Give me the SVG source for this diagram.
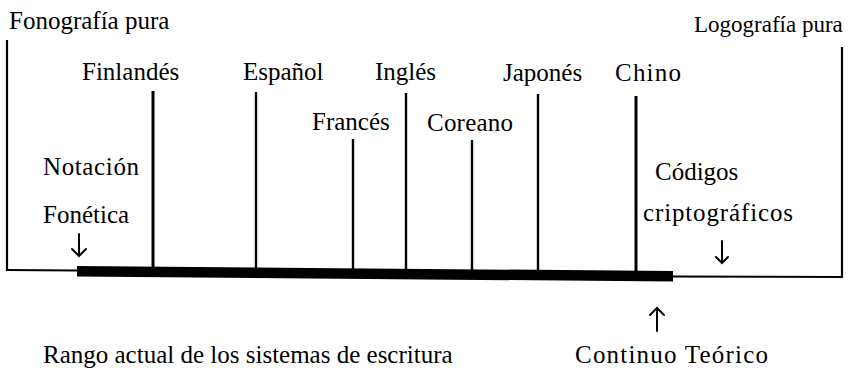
<svg xmlns="http://www.w3.org/2000/svg" width="850" height="377" viewBox="0 0 850 377">
<style>
text{font-family:"Liberation Serif","Times New Roman",serif;font-size:25px;fill:#000}
.thin{stroke:#000;stroke-width:2.2;fill:none}
.tick{stroke:#000;stroke-width:2.4;fill:none}
.arrow{stroke:#000;stroke-width:2;fill:none;stroke-linecap:round;stroke-linejoin:miter}
</style>
<rect width="850" height="377" fill="#fff"/>
<g id="connectors">
<line class="thin" x1="7" y1="40" x2="7" y2="271"/>
<line class="thin" x1="6" y1="270" x2="78" y2="270.5"/>
<polygon points="77,266 673,271 673,281.5 77,276.5" fill="#000"/>
<line class="thin" x1="672" y1="276.5" x2="843" y2="277"/>
<line class="thin" x1="842" y1="47" x2="842" y2="278"/>
<line class="tick" x1="153" y1="91" x2="153" y2="270" style="stroke-width:3"/>
<line class="tick" x1="256" y1="92" x2="256" y2="270"/>
<line class="tick" x1="353" y1="139" x2="353" y2="271"/>
<line class="tick" x1="406" y1="93" x2="406" y2="271"/>
<line class="tick" x1="472" y1="140" x2="472" y2="272"/>
<line class="tick" x1="538" y1="94" x2="538" y2="272"/>
<line class="tick" x1="636" y1="96" x2="636" y2="273" style="stroke-width:3"/>
</g>
<g id="fonografia"><text x="9" y="29">Fonografía pura</text></g>
<g id="logografia"><text x="694" y="32" style="font-size:23px">Logografía pura</text></g>
<g id="finlandes"><text x="82" y="80">Finlandés</text></g>
<g id="espanol"><text x="243" y="80">Español</text></g>
<g id="ingles"><text x="375" y="80">Inglés</text></g>
<g id="japones"><text x="503" y="81">Japonés</text></g>
<g id="chino"><text x="615" y="81" textLength="66">Chino</text></g>
<g id="frances"><text x="312" y="130">Francés</text></g>
<g id="coreano"><text x="427" y="131" textLength="86">Coreano</text></g>
<g id="notacion"><text x="43" y="175" textLength="96">Notación</text><text x="43" y="223">Fonética</text><path class="arrow" d="M79,234 V256 M72,249 L79,256 L86,249"/></g>
<g id="codigos"><text x="655" y="180">Códigos</text><text x="643" y="221" textLength="150">criptográficos</text><path class="arrow" d="M722,241 V263 M716,257 L722,263 L728,257"/></g>
<g id="continuo"><path class="arrow" d="M657,331 V308 M650,315 L657,308 L664,315"/><text x="575" y="363" textLength="193">Continuo Teórico</text></g>
<g id="rango"><text x="43" y="363">Rango actual de los sistemas de escritura</text></g>
</svg>
